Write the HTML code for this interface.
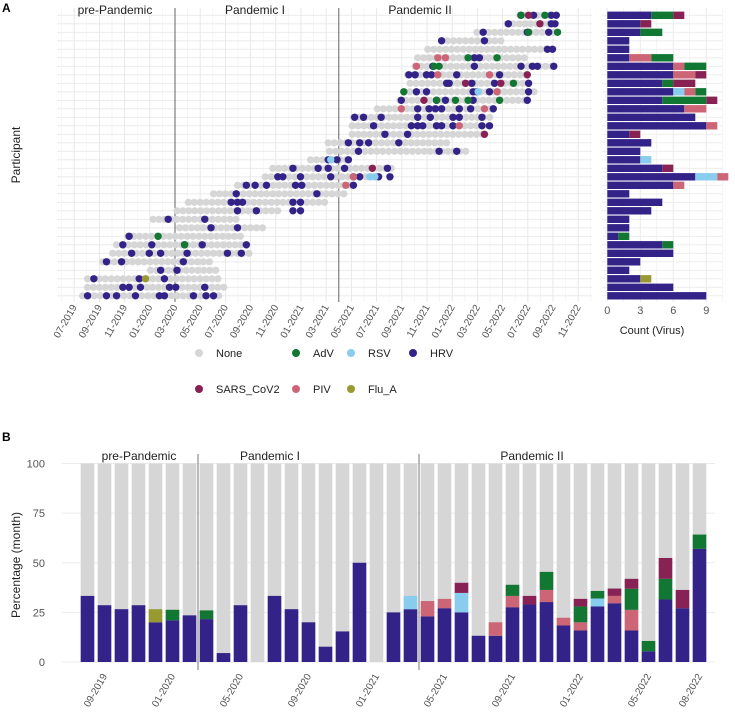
<!DOCTYPE html>
<html><head><meta charset="utf-8">
<style>
body{margin:0;background:#fff;}
svg{display:block;font-family:"Liberation Sans",sans-serif;}
</style></head>
<body>
<svg id="chart" width="735" height="718" viewBox="0 0 735 718">
<g id="gA"></g>
<g id="gAR"></g>
<g id="gLeg"></g>
<g id="gB"></g>
</svg>
<script>
// ---------- Panel A data (months since mid-July 2019) ----------
const rowStart=[34.9,33.9,31.5,28.7,27.6,26.8,26.6,26.0,26.2,25.7,25.4,23.6,21.7,21.6,21.6,19.7,19.8,18.3,15.3,14.7,12.5,10.6,8.6,7.7,5.8,7.9,3.8,2.9,2.6,1.8,5.6,0.6,0.6,0.2];
const rowEnd=[37.9,37.7,37.9,33.6,37.5,35.5,37.7,35.5,35.7,36.3,35.6,32.9,32.5,32.5,32.1,29.1,30.6,21.4,25.0,23.8,21.7,21.2,19.7,16.1,12.5,14.9,12.9,13.3,13.5,10.7,10.9,11.3,11.5,11.3];
const hrvDots=[[0,35.0],[0,36.0],[0,37.4],[0,37.8],[1,34.0],[1,37.4],[1,37.7],[2,32.0],[2,35.5],[2,37.2],[3,28.7],[3,32.1],[4,37.1],[4,37.5],[5,31.3],[5,31.7],
[6,28.0],[6,31.3],[6,35.0],[6,35.9],[6,36.3],[6,37.6],[7,26.1],[7,26.6],[7,27.5],[7,27.9],[7,29.9],[7,33.3],[8,29.1],[8,29.3],[8,31.1],[8,32.9],[8,35.6],
[9,26.7],[9,27.5],[9,31.2],[9,31.5],[9,32.5],[9,35.6],[10,25.5],[10,28.3],[10,29.0],[10,31.2],[10,35.5],[11,26.8],[11,27.7],[11,28.2],[11,28.7],[11,30.1],[11,31.0],[11,32.8],
[12,21.8],[12,22.5],[12,23.9],[12,26.8],[12,27.8],[12,29.6],[12,30.1],[12,31.9],[13,23.3],[13,26.3],[13,26.8],[13,27.2],[13,28.3],[13,28.7],[13,29.6],[13,31.9],[13,32.5],
[14,24.2],[14,26.0],[15,21.3],[15,22.2],[15,22.9],[15,25.3],[16,22.1],[16,28.5],[16,29.9],[17,19.7],[17,20.4],[17,21.3],[18,16.9],[18,18.9],[18,19.7],[18,21.0],[18,24.4],
[19,15.7],[19,16.1],[19,17.5],[19,19.9],[19,21.7],[19,22.2],[19,23.7],[19,24.6],[20,13.2],[20,13.9],[20,14.8],[20,17.1],[20,17.6],[20,21.7],[21,12.4],[21,18.8],
[22,12.0],[22,12.5],[22,12.9],[22,16.9],[22,17.5],[23,12.5],[23,14.0],[23,16.9],[23,17.5],[24,7.0],[24,9.9],[25,10.4],[25,12.5],[26,3.9],
[27,3.4],[27,5.7],[27,8.3],[27,9.7],[27,13.2],[28,4.1],[28,5.5],[28,6.4],[28,8.5],[28,11.7],[28,12.8],[29,2.1],[29,3.3],[29,8.2],[30,6.4],[30,7.7],
[31,1.1],[31,4.7],[31,6.7],[32,3.4],[32,3.9],[32,4.8],[32,7.1],[32,7.6],[32,9.9],[33,0.6],[33,2.1],[33,2.9],[33,4.4],[33,6.3],[33,6.7],[33,9.0],[33,10.0],[33,10.6]];
const advDots=[[0,35.0],[0,36.9],[2,35.6],[2,37.9],[5,30.8],[5,33.1],[6,28.1],[6,28.5],[8,34.4],[9,25.7],[10,28.3],[10,29.8],[10,30.8],[10,33.3],[26,6.2],[27,8.3]];
const sarsDots=[[0,35.6],[1,36.5],[7,35.5],[8,30.6],[8,33.4],[10,27.3],[14,32.1],[18,23.2]];
const pivDots=[[5,28.4],[5,29.0],[6,26.7],[7,28.4],[7,32.5],[9,33.1],[11,25.5],[11,32.1],[13,30.1],[19,21.7],[20,21.1]];
const rsvDots=[[9,31.6],[17,19.9],[19,23.0],[19,23.4]];
const fluDots=[[31,5.2]];
const dateTicks=["07-2019","09-2019","11-2019","01-2020","03-2020","05-2020","07-2020","09-2020","11-2020","01-2021","03-2021","05-2021","07-2021","09-2021","11-2021","01-2022","03-2022","05-2022","07-2022","09-2022","11-2022"];
// counts per participant (top to bottom)
const hrvC=[4,3,3,2,2,2,6,6,5,6,5,7,8,9,2,4,3,3,5,8,6,2,5,4,2,2,1,5,6,3,2,3,6,9];
const rsvC=[0,0,0,0,0,0,0,0,0,1,0,0,0,0,0,0,0,1,0,2,0,0,0,0,0,0,0,0,0,0,0,0,0,0];
const pivC=[0,0,0,0,0,2,1,2,0,1,0,2,0,1,0,0,0,0,0,1,1,0,0,0,0,0,0,0,0,0,0,0,0,0];
const advC=[2,0,2,0,0,2,2,0,1,1,4,0,0,0,0,0,0,0,0,0,0,0,0,0,0,0,1,1,0,0,0,0,0,0];
const sarsC=[1,1,0,0,0,0,0,1,2,0,1,0,0,0,1,0,0,0,1,0,0,0,0,0,0,0,0,0,0,0,0,0,0,0];
const fluC=[0,0,0,0,0,0,0,0,0,0,0,0,0,0,0,0,0,0,0,0,0,0,0,0,0,0,0,0,0,0,0,1,0,0];
const countTicks=[0,3,6,9];
// ---------- Panel B data (percent by month, 08-2019 .. 08-2022) ----------
const hrvB=[33.3,28.6,26.6,28.6,20,21,23.5,21.6,4.5,28.6,0,33.3,26.6,20,7.7,15.4,50,0,25,26.6,23,27.1,25,13.2,13.2,27.6,29,30.2,18.4,15.9,28,29.6,15.9,5.4,31.5,27.1,57];
const rsvB=[0,0,0,0,0,0,0,0,0,0,0,0,0,0,0,0,0,0,0,6.7,0,0,9.8,0,0,0,0,0,0,0,4,0,0,0,0,0,0];
const pivB=[0,0,0,0,0,0,0,0,0,0,0,0,0,0,0,0,0,0,0,0,7.7,4.7,0,0,6.8,5.7,0,6.1,3.9,4.1,0,3.7,10.4,0,0,0,0];
const advB=[0,0,0,0,0,5.3,0,4.4,0,0,0,0,0,0,0,0,0,0,0,0,0,0,0,0,0,5.6,0,9.1,0,8,3.8,0,10.6,5.2,10.4,0,7.2];
const sarsB=[0,0,0,0,0,0,0,0,0,0,0,0,0,0,0,0,0,0,0,0,0,0,5.1,0,0,0,4.3,0,0,3.8,0,3.7,5,0,10.5,9.2,0];
const fluB=[0,0,0,0,6.6,0,0,0,0,0,0,0,0,0,0,0,0,0,0,0,0,0,0,0,0,0,0,0,0,0,0,0,0,0,0,0,0];
const monthTickIdx=[1,5,9,13,17,21,25,29,33,36];
const monthTickLab=["09-2019","01-2020","05-2020","09-2020","01-2021","05-2021","09-2021","01-2022","05-2022","08-2022"];
const pctTicks=[0,25,50,75,100];

const C={none:"#d6d6d6",hrv:"#332288",adv:"#117733",rsv:"#88ccee",sars:"#882255",piv:"#cc6677",flu:"#999933"};
const NS="http://www.w3.org/2000/svg";
function mk(parent,tag,attrs,text){const e=document.createElementNS(NS,tag);for(const k in attrs)e.setAttribute(k,attrs[k]);if(text!==undefined)e.textContent=text;parent.appendChild(e);return e;}

// scales
const xA=m=>74.2+12.6*(m+0.46);
const tickX=k=>74.2+12.6*k;
const yA=r=>15.3+r*8.5;
const xC=v=>607.3+11*v;
const yB=p=>662-p*1.985;
const xB=i=>87.5+i*17;

// ---------- Panel A ----------
const gA=document.getElementById('gA');
for(let k=-1;k<=41;k++){const l=mk(gA,'line',{x1:tickX(k),x2:tickX(k),y1:8,y2:302,stroke:k%2===0?'#e6e6e6':'#f0f0f0','stroke-width':k%2===0?0.9:0.6});

}
for(let r=0;r<34;r++){const l=mk(gA,'line',{x1:57,x2:592,y1:yA(r),y2:yA(r),stroke:'#e8e8e8','stroke-width':0.9});

}
[8,21].forEach(k=>{const l=mk(gA,'line',{x1:tickX(k),x2:tickX(k),y1:8,y2:302,stroke:'#555','stroke-width':0.9});

});
[["pre-Pandemic",115],["Pandemic I",255],["Pandemic II",420]].forEach(p=>{const t=mk(gA,'text',{x:p[1],y:14,'text-anchor':'middle','font-size':12,fill:'#222'},p[0]);

});
// gray dots
for(let r=0;r<34;r++){for(let m=rowStart[r];m<=rowEnd[r]+0.01;m+=0.47){const c=mk(gA,'circle',{cx:xA(m),cy:yA(r),r:3.6,fill:C.none});

}}
function dots(arr,col,name){arr.forEach(d=>{const c=mk(gA,'circle',{cx:xA(d[1]),cy:yA(d[0]),r:3.7,fill:col});

});}
dots(hrvDots,C.hrv,'sample-hrv');dots(advDots,C.adv,'sample-adv');dots(pivDots,C.piv,'sample-piv');
dots(sarsDots,C.sars,'sample-sars');dots(rsvDots,C.rsv,'sample-rsv');dots(fluDots,C.flu,'sample-flu');
dateTicks.forEach((lab,i)=>{const x=tickX(i*2);const t=mk(gA,'text',{x:x+3,y:307,'text-anchor':'end','font-size':10,fill:'#555',transform:`rotate(-60 ${x+3} 307)`},lab);

});
let t=mk(gA,'text',{x:20,y:155,'text-anchor':'middle','font-size':12,fill:'#222',transform:'rotate(-90 20 155)'},'Participant');

t=mk(gA,'text',{x:2,y:12,'font-size':12,'font-weight':'bold',fill:'#000'},'A');


// ---------- Panel A right count bars ----------
const gAR=document.getElementById('gAR');
for(let v=0;v<=11;v+=1.5){const l=mk(gAR,'line',{x1:xC(v),x2:xC(v),y1:8,y2:302,stroke:'#ebebeb','stroke-width':v%3===0?1:0.6});

}
for(let r=0;r<34;r++){const l=mk(gAR,'line',{x1:602,x2:722,y1:yA(r),y2:yA(r),stroke:'#ebebeb','stroke-width':0.9});

}
const series=[[hrvC,C.hrv,'hrv'],[rsvC,C.rsv,'rsv'],[pivC,C.piv,'piv'],[advC,C.adv,'adv'],[sarsC,C.sars,'sars'],[fluC,C.flu,'flu']];
for(let r=0;r<34;r++){let acc=0;series.forEach(s=>{const v=s[0][r];if(v>0){const b=mk(gAR,'rect',{x:xC(acc),y:yA(r)-3.7,width:xC(acc+v)-xC(acc),height:7.4,fill:s[1]});

acc+=v;}});}
countTicks.forEach(v=>{const tt=mk(gAR,'text',{x:xC(v),y:314,'text-anchor':'middle','font-size':11,fill:'#555'},String(v));

});
t=mk(gAR,'text',{x:652,y:334,'text-anchor':'middle','font-size':11,fill:'#222'},'Count (Virus)');


// ---------- Legend ----------
const gLeg=document.getElementById('gLeg');
const legItems=[["None",C.none,199,353],["AdV",C.adv,296,353],["RSV",C.rsv,351,353],["HRV",C.hrv,413,353],["SARS_CoV2",C.sars,199,389],["PIV",C.piv,296,389],["Flu_A",C.flu,351,389]];
legItems.forEach(it=>{const g=mk(gLeg,'g',{});


mk(g,'circle',{cx:it[2],cy:it[3],r:4,fill:it[1]});mk(g,'text',{x:it[2]+17,y:it[3]+4,'font-size':11,fill:'#222'},it[0]);});

// ---------- Panel B ----------
const gB=document.getElementById('gB');
pctTicks.forEach(p=>{const l=mk(gB,'line',{x1:62,x2:715,y1:yB(p),y2:yB(p),stroke:'#ebebeb','stroke-width':1});


const tt=mk(gB,'text',{x:45,y:yB(p)+4,'text-anchor':'end','font-size':11,fill:'#555'},String(p));

});
const seriesB=[[hrvB,C.hrv,'hrv'],[rsvB,C.rsv,'rsv'],[pivB,C.piv,'piv'],[advB,C.adv,'adv'],[sarsB,C.sars,'sars'],[fluB,C.flu,'flu']];
for(let i=0;i<hrvB.length;i++){const bg=mk(gB,'rect',{x:xB(i)-6.8,y:yB(100),width:13.6,height:yB(0)-yB(100),fill:C.none});


let acc=0;seriesB.forEach(s=>{const v=s[0][i];if(v>0){const b=mk(gB,'rect',{x:xB(i)-6.8,y:yB(acc+v),width:13.6,height:yB(acc)-yB(acc+v),fill:s[1]});

acc+=v;}});}
[6.5,19.5].forEach(i=>{const l=mk(gB,'line',{x1:xB(i),x2:xB(i),y1:454,y2:670,stroke:'#777','stroke-width':1});

});
[["pre-Pandemic",139],["Pandemic I",270],["Pandemic II",532]].forEach(p=>{const tt=mk(gB,'text',{x:p[1],y:460,'text-anchor':'middle','font-size':12,fill:'#222'},p[0]);

});
monthTickIdx.forEach((idx,j)=>{const x=xB(idx);const tt=mk(gB,'text',{x:x+3,y:676,'text-anchor':'end','font-size':10,fill:'#555',transform:`rotate(-60 ${x+3} 676)`},monthTickLab[j]);

});
t=mk(gB,'text',{x:20,y:565,'text-anchor':'middle','font-size':12,fill:'#222',transform:'rotate(-90 20 565)'},'Percentage (month)');

t=mk(gB,'text',{x:2,y:441,'font-size':12,'font-weight':'bold',fill:'#000'},'B');

</script>
</body></html>
